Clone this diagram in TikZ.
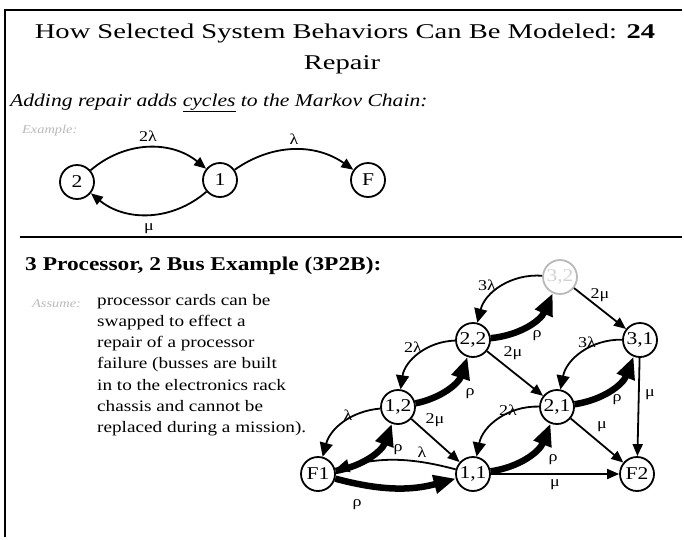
\documentclass[tikz,border=0pt]{standalone}
\usepackage{fontspec}
\setmainfont{Liberation Serif}[FakeStretch=1.2]
\newfontfamily\titlefont{Liberation Serif}[FakeStretch=1.36]
\usetikzlibrary{arrows.meta}

\tikzset{
  st/.style={circle, draw, line width=1.8pt, minimum size=34pt, inner sep=0pt,
             font=\fontsize{18}{18}\selectfont},
  ghost/.style={st, draw=gray!55, text=gray!35},
  lbl/.style={inner sep=0pt, font=\fontsize{15}{15}\selectfont},
  faint/.style={inner sep=0pt, text=gray!55, font=\fontsize{12}{12}\selectfont\itshape},
  failarc/.style={line width=1.8pt, -{Triangle[length=14pt,width=13pt]}},
  repairarc/.style={line width=6.5pt, -{Triangle[length=22pt,width=18pt]}},
  plain/.style={line width=1.8pt, -{Triangle[length=12pt,width=10pt]}},
}

\begin{document}
\begin{tikzpicture}[x=1pt,y=1pt]
\useasboundingbox (0,0) rectangle (684,-539);

% frame and separator
\draw[line width=2pt] (5,-537) -- (5,-10) -- (682,-10);
\draw[line width=2pt] (20,-237) -- (682,-237);

% title
\node[anchor=base, inner sep=0pt] (title) at (345,-38)
  {\titlefont\fontsize{21}{21}\selectfont How Selected System Behaviors Can Be Modeled: \textbf{24}};
\node[anchor=base, inner sep=0pt] (subtitle) at (342,-69)
  {\titlefont\fontsize{21}{21}\selectfont Repair};

\node[anchor=base west, inner sep=0pt] (intro) at (10,-106)
  {\fontsize{18}{18}\selectfont\itshape Adding repair adds \underline{cycles} to the Markov Chain:};
\node[faint, anchor=base west] (exlbl) at (22,-133) {Example:};

% simple two-unit chain
\node[st] (n2) at (77,-182) {2};
\node[st] (n1) at (220,-180) {1};
\node[st] (nF) at (368,-180) {F};
\draw[plain] (n2) to[bend left=40] node[lbl, above=5pt] {2λ} (n1);
\draw[plain] (n1) to[bend left=40] node[lbl, below=8pt] {μ} (n2);
\draw[plain] (n1) to[bend left=35] node[lbl, above=4pt] {λ} (nF);

% 3P2B section
\node[anchor=base west, inner sep=0pt] (head) at (25,-270)
  {\fontsize{19.5}{19.5}\selectfont\bfseries 3 Processor, 2 Bus Example (3P2B):};
\node[faint, anchor=base west] (aslbl) at (32,-307) {Assume:};
\node[anchor=north west, inner sep=0pt, align=left,
      font=\fontsize{16}{21.2}\selectfont] (para) at (97,-294)
  {processor cards can be\\
   swapped to effect a\\
   repair of a processor\\
   failure (busses are built\\
   in to the electronics rack\\
   chassis and cannot be\\
   replaced during a mission).};

% states (processors,busses)
\node[ghost] (s32) at (560,-277) {3,2};
\node[st] (s22) at (473,-340) {2,2};
\node[st] (s31) at (640,-340) {3,1};
\node[st] (s12) at (398,-407) {1,2};
\node[st] (s21) at (557,-407) {2,1};
\node[st] (sF1) at (318,-474) {F1};
\node[st] (s11) at (473,-474) {1,1};
\node[st] (sF2) at (637,-474) {F2};

% processor failures
\draw[failarc] (s32) to[bend right=40] (s22);
\draw[failarc] (s22) to[bend right=40] (s12);
\draw[failarc] (s31) to[bend right=40] (s21);
\draw[failarc] (s12) to[bend right=35] (sF1);
\draw[failarc] (s21) to[bend right=40] (s11);
\draw[failarc] (s11) to[bend right=15] (sF1);

% repairs
\draw[repairarc] (s22) to[bend right=30] (s32);
\draw[repairarc] (s12) to[bend right=30] (s22);
\draw[repairarc] (s21) to[bend right=30] (s31);
\draw[repairarc] (sF1) to[bend right=30] (s12);
\draw[repairarc] (s11) to[bend right=30] (s21);
\draw[repairarc] (sF1) to[bend right=15] (s11);

% bus failures
\draw[plain] (s32) -- (s31);
\draw[plain] (s22) -- (s21);
\draw[plain] (s31) -- (sF2);
\draw[plain] (s12) -- (s11);
\draw[plain] (s21) -- (sF2);
\draw[plain] (s11) -- (sF2);

% rate labels
\node[lbl] (r1) at (487,-285) {3λ};
\node[lbl] (r2) at (537,-336) {ρ};
\node[lbl] (r3) at (600,-295) {2μ};
\node[lbl] (r4) at (413,-347) {2λ};
\node[lbl] (r5) at (513,-353) {2μ};
\node[lbl] (r6) at (587,-342) {3λ};
\node[lbl] (r7) at (470,-394) {ρ};
\node[lbl] (r8) at (617,-400) {ρ};
\node[lbl] (r9) at (650,-395) {μ};
\node[lbl] (r10) at (348,-415) {λ};
\node[lbl] (r11) at (435,-420) {2μ};
\node[lbl] (r12) at (508,-410) {2λ};
\node[lbl] (r13) at (602,-427) {μ};
\node[lbl] (r14) at (398,-450) {ρ};
\node[lbl] (r15) at (422,-452) {λ};
\node[lbl] (r16) at (553,-460) {ρ};
\node[lbl] (r17) at (555,-485) {μ};
\node[lbl] (r18) at (357,-505) {ρ};
\end{tikzpicture}
\end{document}
